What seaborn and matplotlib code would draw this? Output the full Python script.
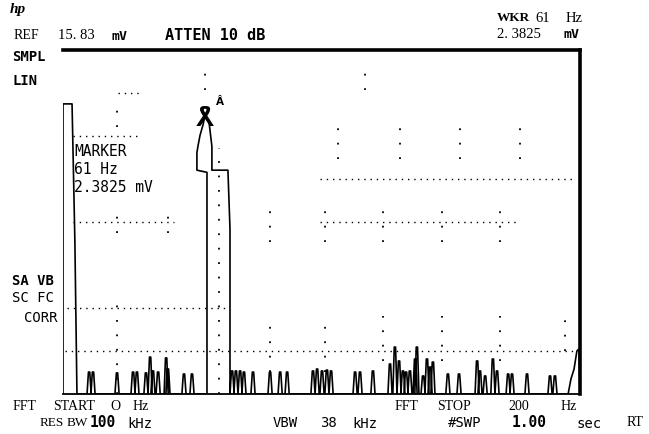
import matplotlib
matplotlib.use("Agg")
import matplotlib.pyplot as plt
import seaborn as sns
import pandas as pd

# ---------------- data ----------------
# frequency axis: 0..200 Hz, amplitude axis: 0..15.83 mV (REF level, LIN)
dc_f = [0.0, 0.0, 3.5, 4.6, 5.4]
dc_mv = [0.0, 13.35, 13.35, 7.0, 0.0]

peak_f = [55.7, 55.7, 51.8, 51.8, 52.2, 53.0, 54.2, 54.9, 56.5, 57.6, 57.6, 63.8, 64.6, 64.6]
peak_mv = [0.0, 10.2, 10.3, 11.1, 11.4, 11.9, 12.4, 12.8, 12.5, 11.4, 10.3, 10.3, 7.6, 0.0]

ramp_f = [195.4, 196.5, 197.7, 198.8, 199.6, 200.0]
ramp_mv = [0.0, 0.69, 1.15, 1.98, 2.07, 0.0]

spike_f = [10.1, 11.6, 20.9, 27.1, 28.6, 32.1, 33.7, 34.8, 36.8, 39.9, 40.6, 46.8, 49.9,
           65.4, 66.9, 68.5, 70.0, 73.5, 80.1, 84.0, 86.7, 96.7, 98.3, 100.2, 102.1, 103.7,
           113.0, 114.9, 119.9, 126.5, 128.4, 130.0, 131.5, 132.7, 134.2, 136.2, 136.9,
           139.3, 140.8, 142.0, 143.1, 148.9, 153.2, 160.2, 161.3, 163.3, 166.3, 167.9,
           172.2, 173.7, 179.5, 188.4, 190.3]
spike_mv = [1.01, 1.01, 0.97, 1.01, 1.01, 0.97, 1.70, 1.06, 1.01, 1.66, 1.15, 0.92, 0.92,
            1.06, 1.06, 1.06, 1.01, 1.01, 1.01, 1.01, 1.01, 1.06, 1.15, 1.06, 1.10, 1.06,
            1.01, 1.01, 1.06, 1.38, 2.16, 1.52, 1.06, 1.01, 1.06, 1.61, 2.16,
            0.83, 1.61, 1.24, 1.47, 0.92, 0.92, 1.52, 1.06, 0.83, 1.61, 1.06,
            0.92, 0.92, 0.92, 0.83, 0.83]

marker_f, marker_mv = 54.9, 12.8

REF_MV = 15.83
SPAN_HZ = 200.0

# ---------------- build the trace polyline ----------------
segments = [(dc_f, dc_mv), (peak_f, peak_mv), (ramp_f, ramp_mv)]
for f, a in zip(spike_f, spike_mv):
    segments.append(([f - 0.8, f - 0.25, f + 0.25, f + 0.8], [0.0, a, a, 0.0]))
segments.sort(key=lambda s: s[0][0])
xs, ys = [], []
for sf, sa in segments:
    xs += sf
    ys += sa
trace = pd.DataFrame({"freq": xs, "mv": ys})

# ---------------- figure ----------------
sns.set_style("white")
plt.rcParams["font.family"] = ["DejaVu Sans"]

W, H = 649, 435
fig = plt.figure(figsize=(W / 100, H / 100), dpi=100)
L, R, T, B = 63, 580, 51, 395
ax = fig.add_axes([L / W, 1 - B / H, (R - L) / W, (B - T) / H])

sns.lineplot(data=trace, x="freq", y="mv", sort=False, estimator=None,
             color="black", linewidth=1.2, ax=ax)
ax.set_xlim(0, SPAN_HZ)
ax.set_ylim(0, REF_MV)
ax.set_xlabel("")
ax.set_ylabel("")
ax.set_xticks([])
ax.set_yticks([])
ax.spines["left"].set_visible(False)
ax.spines["top"].set_linewidth(2.6)
ax.spines["right"].set_linewidth(2.6)
ax.spines["bottom"].set_linewidth(1.3)
for s in ax.spines.values():
    s.set_color("black")

# graticule fragments (dotted)
div = REF_MV / 8
dot = dict(color="black", linewidth=1.0, linestyle=(0, (1, 3.5)))
hseg = [(1, 0.8, 198), (2, 1.5, 64), (4, 3.9, 43), (4, 99.4, 176.7),
        (5, 99.4, 198), (6, 3.9, 29.8), (7, 21.3, 31)]
for k, x0, x1 in hseg:
    ax.plot([x0, x1], [k * div, k * div], **dot)
vdot = dict(color="black", linewidth=1.3, linestyle=(0, (1, 7)))
vseg = [(20.9, 0.0, 4.4), (20.9, 7.4, 8.7), (20.9, 12.3, 13.2), (40.6, 7.4, 8.7),
        (60.3, 0.0, 11.3), (80.1, 1.0, 3.6), (80.1, 7.0, 8.6), (101.4, 1.0, 3.6),
        (101.4, 7.0, 8.6), (123.8, 1.5, 3.6), (123.8, 7.0, 8.6), (146.6, 1.5, 3.6),
        (146.6, 7.0, 8.6), (169.1, 1.5, 3.6), (169.1, 7.0, 8.6), (194.2, 2.0, 3.6),
        (106.4, 10.8, 12.3), (130.4, 10.8, 12.3), (153.6, 10.8, 12.3), (176.8, 10.8, 12.3),
        (54.9, 14.0, 14.8), (116.8, 14.0, 14.8)]
for xv, y0, y1 in vseg:
    ax.plot([xv, xv], [y0, y1], **vdot)

# marker symbol on the peak
ax.text(marker_f, marker_mv + 0.15, "Ɣ", rotation=180, ha="center", va="center",
        fontsize=16, fontweight="bold", color="black")
ax.text(marker_f + 5.8, marker_mv + 0.7, "Â", ha="center", va="center",
        fontsize=7.5, fontweight="bold", color="black")

# ---------------- annotations ----------------
SERIF = "Liberation Serif"
MONO = "DejaVu Sans Mono"


def t(px, py, s, fam=MONO, size=10.5, weight="normal", style="normal"):
    fig.text(px / W, 1 - py / H, s, ha="left", va="center", fontsize=size,
             family=fam, fontweight=weight, fontstyle=style, color="black")


t(10, 10, "hp", SERIF, 11, "bold", "italic")
t(14, 36, "REF", SERIF, 10)
t(58, 36, "15. 83", SERIF, 10.5)
t(111, 37, "mV", MONO, 9.5, "bold")
t(165, 36, "ATTEN 10 dB", MONO, 11, "bold")
t(497, 18, "WKR", SERIF, 9.5, "bold")
t(535, 18, "61", SERIF, 10.5)
t(566, 18, "Hz", SERIF, 10.5)
t(497, 34, "2. 3825", SERIF, 10.5)
t(564, 35, "mV", MONO, 9.5, "bold")
t(12, 57, "SMPL", MONO, 10, "bold")
t(12, 81, "LIN", MONO, 10, "bold")

t(74, 152, "MARKER", MONO, 10.5)
t(74, 170, "61 Hz", MONO, 10.5)
t(74, 188, "2.3825 mV", MONO, 10.5)

t(12, 281, "SA VB", MONO, 10, "bold")
t(12, 298, "SC FC", MONO, 10)
t(24, 318, "CORR", MONO, 10)

t(13, 407, "FFT", SERIF, 10)
t(53, 407, "START", SERIF, 10)
t(110, 407, "O", SERIF, 10)
t(133, 407, "Hz", SERIF, 10)
t(395, 407, "FFT", SERIF, 10)
t(437, 407, "STOP", SERIF, 10)
t(508, 407, "200", SERIF, 10)
t(561, 407, "Hz", SERIF, 10)

t(40, 423, "RES", SERIF, 9.5)
t(67, 423, "BW", SERIF, 9.5)
t(90, 423, "100", MONO, 10.5, "bold")
t(127, 424, "kHz", MONO, 10)
t(273, 423, "VBW", MONO, 10)
t(320, 423, "38", MONO, 10)
t(352, 424, "kHz", MONO, 10)
t(448, 423, "#SWP", MONO, 10)
t(512, 423, "1.00", MONO, 10.5, "bold")
t(577, 424, "sec", MONO, 10)
t(627, 423, "RT", SERIF, 10)

fig.savefig("out.png", dpi=100)
